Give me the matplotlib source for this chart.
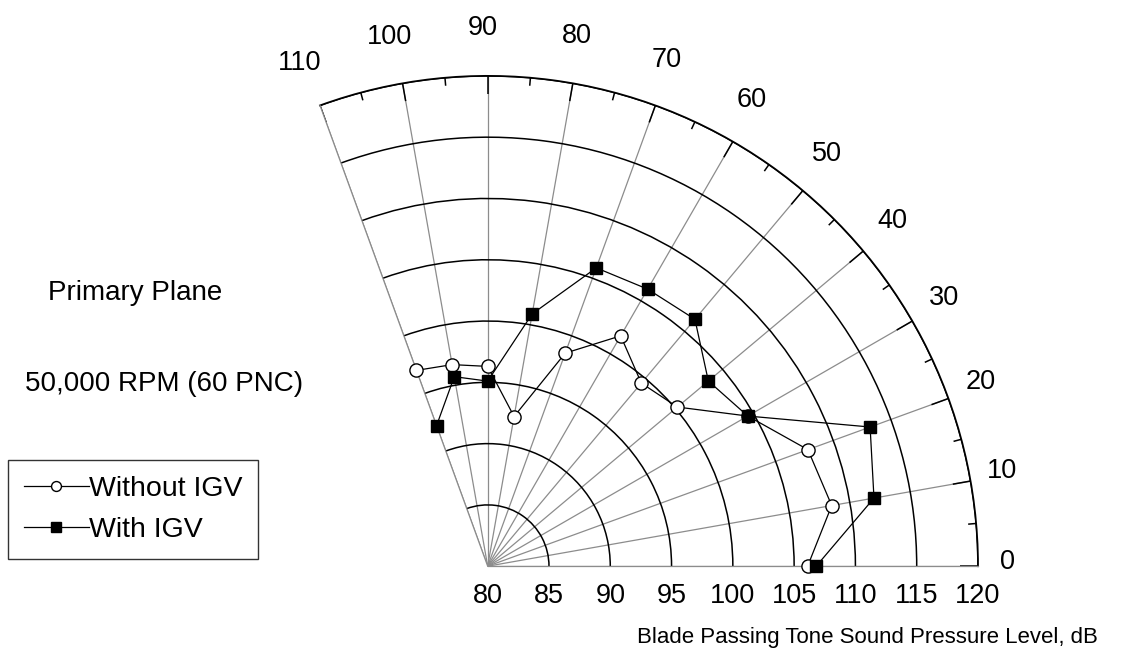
import numpy as np
import matplotlib
matplotlib.use("Agg")
import matplotlib.pyplot as plt

# directivity of the blade passing tone, primary plane, 50,000 RPM
angles_deg = [0, 10, 20, 30, 40, 50, 60, 70, 80, 90, 100, 110]
spl_without_igv = [106.1, 108.5, 107.8, 104.5, 100.2, 99.5, 101.7, 98.5, 92.4, 96.3, 96.7, 97.0]
spl_with_igv = [106.8, 112.0, 113.2, 104.5, 103.5, 106.3, 106.1, 105.9, 100.9, 95.1, 95.7, 92.2]

r_ticks = [80, 85, 90, 95, 100, 105, 110, 115, 120]
theta_ticks = [0, 10, 20, 30, 40, 50, 60, 70, 80, 90, 100, 110]
theta_minor = [5, 15, 25, 35, 45, 55, 65, 75, 85, 95, 105]

plt.rcParams['font.family'] = ['Liberation Sans', 'DejaVu Sans']

W, H = 1124, 669
fig = plt.figure(figsize=(W / 100, H / 100), dpi=100)
# polar axes are kept square; the 0-110 deg wedge sits centred in that square
side = 658
ax = fig.add_axes([320 / W, (H - 647) / H, side / W, side / H], projection='polar')

r_min, r_max = 80, 120
ax.set_thetamin(0)
ax.set_thetamax(110)
ax.set_rlim(r_min, r_max)

th = np.deg2rad(angles_deg)
ax.plot(th, spl_without_igv, color='black', lw=0.9, marker='o', ms=9.5,
        mfc='white', mec='black', mew=1.0, label='Without IGV', zorder=3,
        clip_on=False)
ax.plot(th, spl_with_igv, color='black', lw=0.9, marker='s', ms=9,
        mfc='black', mec='black', label='With IGV', zorder=4, clip_on=False)

# angular grid (grey spokes); labels are placed by hand further down
ax.set_xticks(np.deg2rad(theta_ticks))
ax.set_xticklabels([])
ax.xaxis.grid(True, which='major', color='#8c8c8c', lw=0.9)
ax.tick_params(axis='x', length=0)

# inward tick marks on the outer arc: long every 10 deg, short in between
px_per_db = 490 / (r_max - r_min)
ax.vlines(np.deg2rad(theta_ticks), r_max - 18 / px_per_db, r_max,
          color='black', lw=1.1, zorder=2.5)
ax.vlines(np.deg2rad(theta_minor), r_max - 8 / px_per_db, r_max,
          color='black', lw=1.1, zorder=2.5)

# angle labels sit a little further out towards the top of the arc
for t in theta_ticks:
    gap_px = 30 + 18 * np.sin(np.deg2rad(t))
    ax.text(np.deg2rad(t + 0.5), r_max + gap_px / px_per_db, str(t),
            fontsize=19.5, ha='center', va='center', clip_on=False)

# radial grid (black arcs)
ax.set_yticks(r_ticks)
ax.set_yticklabels([str(r) for r in r_ticks])
ax.yaxis.grid(True, color='black', lw=1.1)
ax.tick_params(axis='y', length=0, pad=12, labelsize=19.5)

ax.spines['polar'].set_color('black')
ax.spines['polar'].set_linewidth(1.3)
for s in ('start', 'end'):
    ax.spines[s].set_color('#8c8c8c')
    ax.spines[s].set_linewidth(0.9)
ax.spines['inner'].set_visible(False)

fig.text(48 / W, 1 - 293 / H, 'Primary Plane', fontsize=20, va='center', ha='left')
fig.text(25 / W, 1 - 384 / H, '50,000 RPM (60 PNC)', fontsize=20, va='center', ha='left')
fig.text(867 / W, 1 - 637 / H, 'Blade Passing Tone Sound Pressure Level, dB',
         fontsize=16, va='center', ha='center')

leg = fig.legend(loc='upper left', bbox_to_anchor=(8 / W, 1 - 460 / H),
                 fontsize=20.5, frameon=True, fancybox=False, handlelength=2.3,
                 handletextpad=0.0, borderpad=0.55, labelspacing=0.55,
                 borderaxespad=0, markerscale=0.75)
leg.get_frame().set_edgecolor('black')
leg.get_frame().set_linewidth(1.0)

fig.savefig('out.png', dpi=100, facecolor='white')
